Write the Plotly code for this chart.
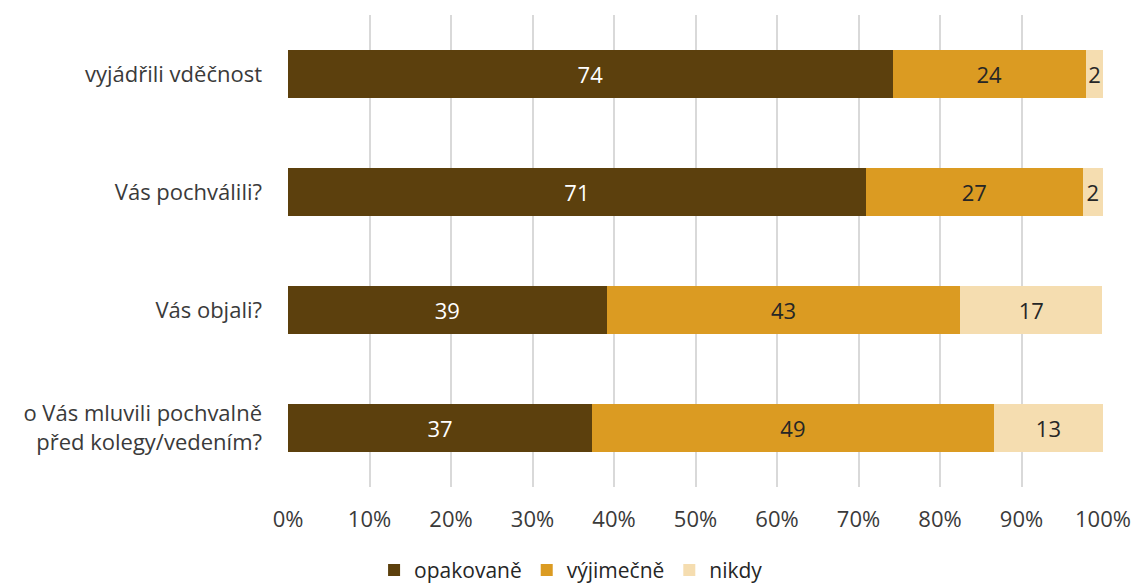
import plotly.graph_objects as go

categories = ["vyjádřili vděčnost", "Vás pochválili?", "Vás objali?",
              "o Vás mluvili pochvalně<br>před kolegy/vedením?"]
opakovane = [74.2, 70.9, 39.1, 37.3]
vyjimecne = [23.7, 26.6, 43.4, 49.3]
nikdy = [2.1, 2.5, 17.4, 13.4]
series_names = ["opakovaně", "výjimečně", "nikdy"]
colors = ["#5C400D", "#DB9B22", "#F5DDB0"]
text_colors = ["#FFFFFF", "#262626", "#262626"]
tick_vals = [0, 10, 20, 30, 40, 50, 60, 70, 80, 90, 100]
tick_text = [f"{v}%" for v in tick_vals]

FONT = "'Open Sans', Lato, sans-serif"
FS = 22

fig = go.Figure()
for name, vals, c, tc in zip(series_names, [opakovane, vyjimecne, nikdy], colors, text_colors):
    fig.add_trace(go.Bar(
        y=categories, x=vals, name=name, orientation="h",
        marker=dict(color=c, line=dict(width=0)),
        text=[f"{v:.0f}" for v in vals], textposition="inside",
        insidetextanchor="middle",
        textfont=dict(color=tc, size=FS, family=FONT),
        constraintext="none",
    ))

fig.update_layout(
    barmode="stack",
    bargap=0.6,
    width=1137, height=588,
    margin=dict(l=288, r=34, t=15, b=101, autoexpand=False),
    plot_bgcolor="white", paper_bgcolor="white",
    font=dict(family=FONT, size=FS, color="#3A3A3A"),
    xaxis=dict(range=[0, 100], tickvals=tick_vals, ticktext=tick_text,
               showgrid=True, gridcolor="#D9D9D9", gridwidth=2,
               zeroline=False, showline=False, ticks="", automargin=False,
               tickfont=dict(size=FS, color="#3A3A3A"), ticklabelstandoff=17),
    yaxis=dict(autorange="reversed", showgrid=False, ticks="", automargin=False,
               tickfont=dict(size=FS, color="#3A3A3A"), ticklabelstandoff=25),
    legend=dict(orientation="h", xref="container", yref="container",
                x=0.329, xanchor="left", y=0.03, yanchor="middle",
                font=dict(size=21, color="#262626"), traceorder="normal",
                itemwidth=30),
)

fig.write_html("out.html", config={"displayModeBar": False},
               post_script="document.body.style.margin='0px';")
